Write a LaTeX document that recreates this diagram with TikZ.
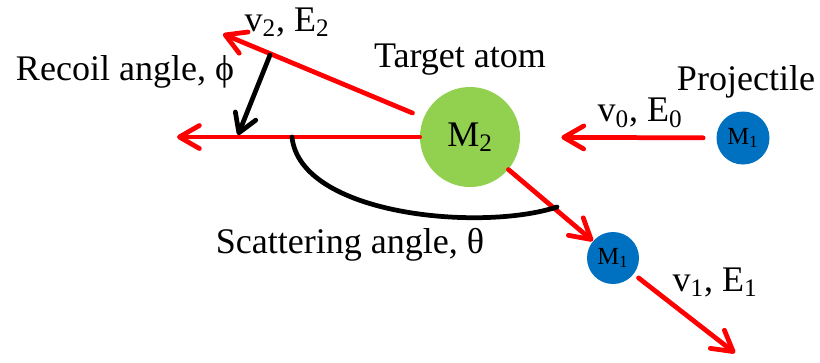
\documentclass[tikz,border=0pt]{standalone}
\usepackage{fontspec}
\setmainfont{Liberation Serif}
\usetikzlibrary{arrows.meta}
\definecolor{rayred}{HTML}{FF0000}
\definecolor{atomgreen}{HTML}{92D050}
\definecolor{atomblue}{HTML}{0070C0}
\tikzset{ray/.style={draw=rayred,line width=2.7pt,-{Straight Barb[round,length=4mm,width=4.6mm]}},
	angarrow/.style={draw=black,line width=2.7pt,-{Straight Barb[round,length=3.6mm,width=4.4mm]}},
	atom/.style={circle,fill=#1,inner sep=0pt}}
\begin{document}
\begin{tikzpicture}[x=.2mm,y=-.2mm,line join=round,line cap=round,font=\rmfamily\fontsize{20.5}{24}\selectfont]
				\useasboundingbox (0,0) rectangle (820,362);
				\node[atom=atomgreen,minimum size=2cm] (t) at (470,137) {M\textsubscript{2}};
				\node[atom=atomblue,minimum size=1.06cm,font=\rmfamily\fontsize{14}{16}\selectfont] (p) at (743,138) {M\textsubscript{1}};
				\node[atom=atomblue,minimum size=1.04cm,font=\rmfamily\fontsize{14}{16}\selectfont] (s) at (613,258) {M\textsubscript{1}};
				\foreach \x/\y/\n/\g in {287/22/lv2/{v\textsubscript{2}, E\textsubscript{2}},125/72/lrec/{Recoil angle, ϕ},460/60/ltar/{Target atom},746/82/lpro/Projectile,640/113/lv0/{v\textsubscript{0}, E\textsubscript{0}},350/245/lsca/{Scattering angle, θ},715/282/lv1/{v\textsubscript{1}, E\textsubscript{1}}}\path(\x,\y)node[inner sep=0pt](\n){\g};
				\coordinate (v2tip) at (223,34);
				\coordinate (reftip) at (177,137);
				\coordinate (v1tip) at (735,353);
				\coordinate (phiA) at (270,55);
				\coordinate (phiB) at (238,135);
				\coordinate (arcA) at (292,137);
				\coordinate (arcB) at (557,207);
				\draw[ray,shorten <=.26cm,shorten >=.82cm] (p)--(t);
				\draw[ray,shorten <=.24cm] (t)--(v2tip);
				\draw[ray] (t)--(reftip);
				\draw[ray] (t)--(s);
				\draw[ray,shorten <=.12cm] (s)--(v1tip);
				\draw[angarrow] (phiA)--(phiB);
				\draw[line width=2.7pt] (arcA) .. controls (300,215) and (480,232) .. (arcB);
				\end{tikzpicture}
\end{document}
